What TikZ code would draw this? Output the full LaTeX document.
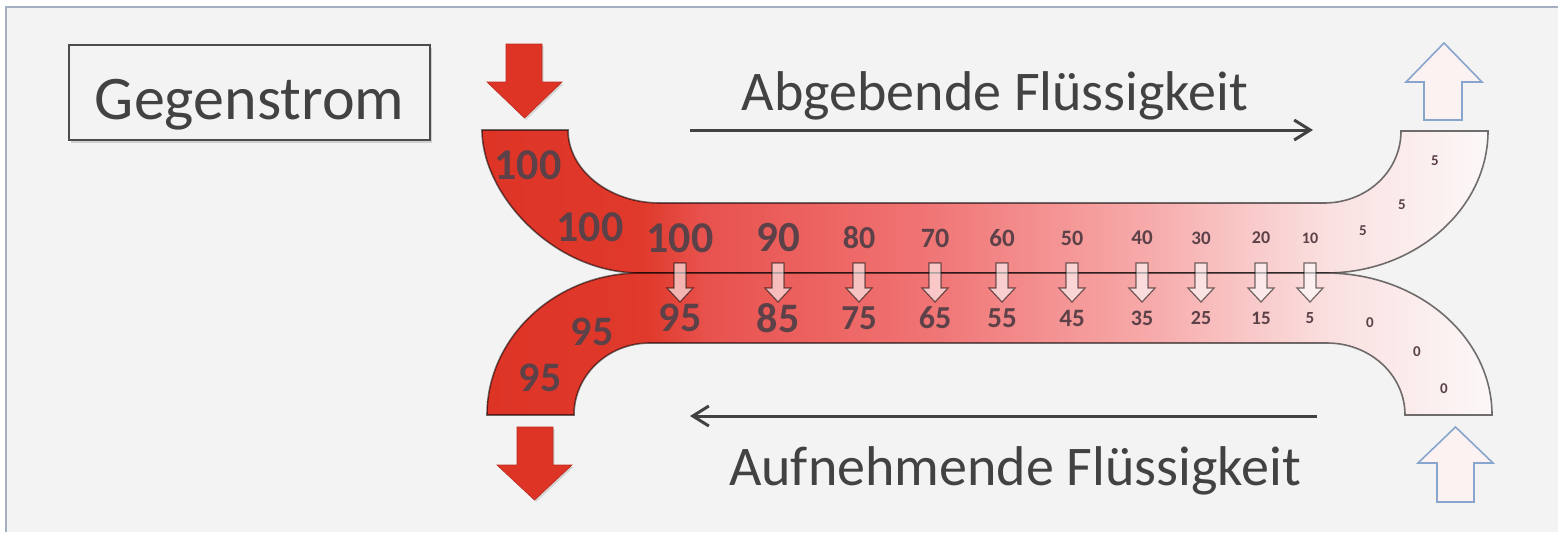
\documentclass[tikz,border=0pt]{standalone}
\usepackage{fontspec}
\setmainfont{Carlito}
\usepackage{xcolor}
\usepackage{tikz}
\usetikzlibrary{arrows.meta}
\usetikzlibrary{shadows}

\definecolor{panelgrey}{RGB}{244,243,244}
\definecolor{panelline}{RGB}{165,175,195}
\definecolor{textgrey}{RGB}{66,66,66}
\definecolor{numgrey}{RGB}{92,66,72}
\definecolor{hotred}{RGB}{221,52,38}
\definecolor{coolblue}{RGB}{135,165,205}
\definecolor{palepink}{RGB}{252,242,242}
\definecolor{pipeA}{RGB}{224,58,44}
\definecolor{pipeB}{RGB}{232,82,78}
\definecolor{pipeC}{RGB}{240,116,116}
\definecolor{pipeD}{RGB}{247,170,170}
\definecolor{pipeE}{RGB}{250,224,224}
\definecolor{pipeF}{RGB}{252,248,248}

\pgfdeclarehorizontalshading{pipeshade}{100bp}{color(0bp)=(hotred); color(25bp)=(hotred);
  color(33bp)=(pipeA); color(36bp)=(pipeB); color(47bp)=(pipeC); color(58bp)=(pipeD);
  color(67bp)=(pipeE); color(75bp)=(pipeF); color(100bp)=(pipeF)}

\begin{document}
\begin{tikzpicture}[x=0.5pt, y=-0.5pt,
  num/.style={font=\bfseries\fontsize{#1}{#1}\selectfont, text=numgrey, inner sep=0pt},
  pipe/.style={draw=black, draw opacity=0.55, line width=0.8pt, shading=pipeshade},
  hotarrow/.style={fill=hotred, draw=hotred!85!black, line width=0.3pt,
    drop shadow={opacity=0.25, shadow xshift=0.8pt, shadow yshift=-1pt}},
  coolarrow/.style={fill=palepink, draw=coolblue, line width=0.8pt},
  dropdown/.style={fill=white, fill opacity=0.6, draw=black, draw opacity=0.55, line width=0.6pt},
  flow/.style={draw=textgrey, line width=1.5pt, -{Straight Barb[length=8pt,width=10pt]}},
  title/.style={font=\fontsize{28}{28}\selectfont, text=textgrey, inner sep=0pt}]
  \useasboundingbox (0,0) rectangle (1564,532);
  \fill[white] (0,0) rectangle (1564,532);
  \fill[panelgrey] (6,7) rectangle (1558,532);
  \draw[panelline, line width=1pt] (6,532) -- (6,7) -- (1558,7);
  % title box
  \node[draw=black!70, line width=0.8pt, fill=panelgrey, anchor=base, inner sep=0pt,
    minimum width=180.5pt, text height=37pt, text depth=10.5pt, text=textgrey,
    font=\fontsize{31}{31}\selectfont,
    drop shadow={opacity=0.3, shadow xshift=1pt, shadow yshift=-1.5pt}]
    (gegen) at (249.5,119) {Gegenstrom};
  % in- and outflow arrows
  \draw[hotarrow] (506,44) -- (542,44) -- (542,82) -- (562,82) -- (524.5,118) -- (487,82) -- (506,82) -- cycle;
  \draw[hotarrow] (517,427) -- (553,427) -- (553,465) -- (572,465) -- (534.5,500) -- (497,465) -- (517,465) -- cycle;
  \draw[coolarrow] (1424,120) -- (1462,120) -- (1462,82) -- (1482,82) -- (1444,43) -- (1406,82) -- (1424,82) -- cycle;
  \draw[coolarrow] (1437,502) -- (1474,502) -- (1474,463) -- (1493,463) -- (1455.5,427) -- (1418,463) -- (1437,463) -- cycle;
  % the two channels
  \shadedraw[pipe] (482,130) -- (568,130) .. controls (568,170) and (609,203) .. (660,203) -- (1324,203)
    .. controls (1367,203) and (1401,171) .. (1401,131) -- (1488,131)
    .. controls (1488,209) and (1415,273) .. (1326,273) -- (640,273)
    .. controls (553,273) and (482,194) .. (482,130) -- cycle;
  \shadedraw[pipe] (640,273) -- (1326,273) .. controls (1418,273) and (1492,337) .. (1492,415) -- (1405,415)
    .. controls (1405,375) and (1370,343) .. (1327,343) -- (650,343)
    .. controls (608,343) and (574,375) .. (574,415) -- (487,415)
    .. controls (487,337) and (556,273) .. (640,273) -- cycle;
  % temperatures along the wall
  \foreach \xx/\hot/\hs/\cold/\cs [count=\i] in {680/100/22/95/21, 778/90/21.5/85/21, 859/80/16/75/17.5,
      935/70/14/65/16, 1002/60/12.5/55/14.5, 1072/50/11/45/12.5, 1142/40/10.5/35/11,
      1201/30/9.5/25/10, 1261/20/9/15/9.5, 1310/10/8/5/8.5}{
    \node[num=\hs] (hot\i) at (\xx,238) {\hot};
    \node[num=\cs] (cold\i) at (\xx,318) {\cold};
    \draw[dropdown] (\xx-6,263) -- (\xx+6,263) -- (\xx+6,288) -- (\xx+13,288) -- (\xx,302) -- (\xx-13,288) -- (\xx-6,288) -- cycle;
  }
  \node[num=22] (hotin) at (528,165) {100};
  \node[num=22] (hotbend) at (590,227) {100};
  \node[num=21] (coldbend) at (592,332) {95};
  \node[num=21] (coldout) at (540,378) {95};
  \node[num=7.5] (hotout) at (1435,161) {5};
  \node[num=7.5] (hotturn) at (1402,205) {5};
  \node[num=7.5] (hotleave) at (1363,231) {5};
  \node[num=7.5] (coldenter) at (1370,323) {0};
  \node[num=7.5] (coldturn) at (1417,352) {0};
  \node[num=7.5] (coldin) at (1444,389) {0};
  % flow directions
  \node[title, anchor=base] (abgebend) at (995,110) {Abgebende Flüssigkeit};
  \node[title, anchor=base] (aufnehmend) at (1015,485) {Aufnehmende Flüssigkeit};
  \coordinate (hotstart) at (690,130);
  \coordinate (hotend) at (1313,130);
  \coordinate (coldstart) at (1317,416);
  \coordinate (coldend) at (690,416);
  \draw[flow] (hotstart) -- (hotend);
  \draw[flow] (coldstart) -- (coldend);
\end{tikzpicture}
\end{document}
